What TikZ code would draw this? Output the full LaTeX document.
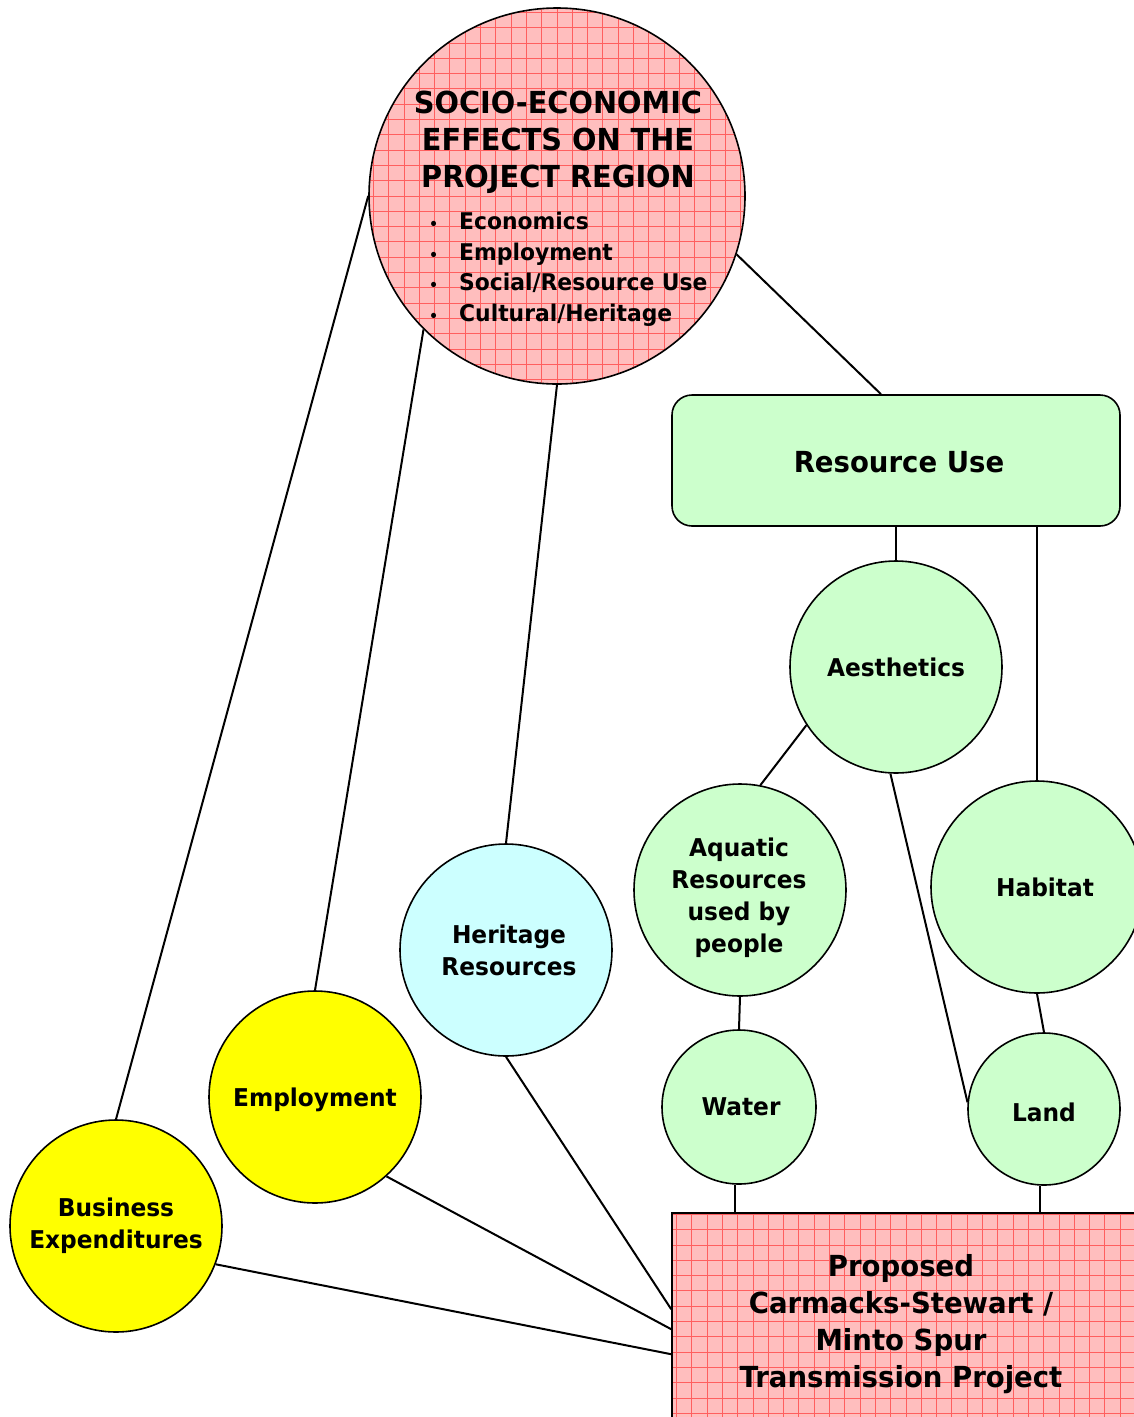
\documentclass[tikz,border=0pt]{standalone}
\usepackage{fontspec}
\setmainfont{DejaVu Sans}[FakeStretch=0.95]
\usetikzlibrary{calc}
\definecolor{pinkfill}{RGB}{255,190,190}
\definecolor{gridred}{RGB}{255,95,95}
\definecolor{greenfill}{RGB}{204,255,204}
\definecolor{cyanfill}{RGB}{204,255,255}
\definecolor{yellowfill}{RGB}{255,255,0}
\newcommand{\bul}{\makebox[33pt][l]{\hspace*{3pt}{\fontsize{15}{15}\selectfont •}}}
\newcommand{\down}[1]{\raisebox{-3pt}[\height][\depth]{#1}}
\begin{document}
\begin{tikzpicture}[x=1pt,y=-1pt,
  conn/.style={line width=2pt, black},
  bubble/.style={circle, draw=black, line width=1.6pt, minimum size=212pt, inner sep=0pt, align=center,
    font=\bfseries\fontsize{24.5}{32}\selectfont},
  greenbub/.style={bubble, fill=greenfill},
  yellowbub/.style={bubble, fill=yellowfill},
  gridded/.style={fill=pinkfill, path picture={
    \draw[gridred, line width=0.9pt] (path picture bounding box.south west) grid[step=15.3pt] (path picture bounding box.north east);}},
  bigtext/.style={font=\bfseries\fontsize{30.3}{37}\selectfont, align=center, inner sep=0pt}
]
\useasboundingbox (0,0) rectangle (1134,1417);
\clip (0,0) rectangle (1134,1417);
\fill[white] (0,0) rectangle (1134,1417);

% top circle
\node[bubble, gridded, minimum size=376pt] (socio) at (557,196) {};
\node[bigtext] (title) at (558,142) {SOCIO-ECONOMIC\\EFFECTS ON THE\\PROJECT REGION};
\node[anchor=west, inner sep=0pt, align=left, font=\bfseries\fontsize{23}{30.5}\selectfont] (bullets) at (426,269)
  {\bul Economics\\\bul Employment\\\bul Social/Resource Use\\\bul Cultural/Heritage};

% resource use box
\node[draw=black, line width=1.6pt, rounded corners=20pt, fill=greenfill, minimum width=448pt, minimum height=131pt,
  inner sep=0pt] (res) at (896,460.5) {};
\node[font=\bfseries\fontsize{29}{36}\selectfont, inner sep=0pt] (restext) at (899,462) {Resource Use};

% green bubbles
\node[greenbub] (aes) at (896,667) {Aesthetics};
\node[greenbub] (aq) at (740,890) {};
\node[inner sep=0pt, align=center, font=\bfseries\fontsize{24.5}{32}\selectfont] (aqtext) at (739,898) {Aquatic\\Resources\\used by\\people};
\node[greenbub] (hab) at (1037,887) {\hspace*{16pt}Habitat};
\node[greenbub, minimum size=152pt] (land) at (1044,1109) {\down{Land}};
\node[greenbub, minimum size=154pt] (water) at (739,1107) {\hspace*{4pt}Water};

% others
\node[bubble, fill=cyanfill] (her) at (506,950) {\hspace*{6pt}Heritage\\\hspace*{6pt}Resources};
\node[yellowbub] (emp) at (315,1097) {\down{Employment}};
\node[yellowbub] (biz) at (116,1226) {Business\\Expenditures};

% project box
\node[draw=black, line width=1.6pt, gridded, minimum width=468pt, minimum height=217pt, inner sep=0pt] (proj) at (906,1321.5) {};
\node[bigtext, font=\bfseries\fontsize{29}{37}\selectfont] (projtext) at (901,1324) {Proposed\\Carmacks-Stewart /\\Minto Spur\\Transmission Project};

% connectors
\draw[conn] (socio.west) -- (biz.north);
\draw[conn] (socio.-135) -- (emp.north);
\draw[conn] (socio.south) -- (her.north);
\draw[conn] (socio.-18) -- ([xshift=-15pt]res.north);
\draw[conn] (res.south) -- (aes.north);
\draw[conn] ([xshift=141pt]res.south) -- (hab.north);
\draw[conn] (aes.-147) -- (aq.79);
\draw[conn] (aes.-93) -- (land.175);
\draw[conn] (aq.south) -- (water.north);
\draw[conn] (water.-93) -- (water.-93 |- proj.north);
\draw[conn] (land.-93) -- (land.-93 |- proj.north);
\draw[conn] (hab.south) -- (land.north);
\draw[conn] (her.south) -- ($(proj.north west)+(0,97)$);
\draw[conn] (emp.-48) -- ($(proj.north west)+(0,117)$);
\draw[conn] (biz.-21) -- ($(proj.north west)+(0,142)$);
\end{tikzpicture}
\end{document}
